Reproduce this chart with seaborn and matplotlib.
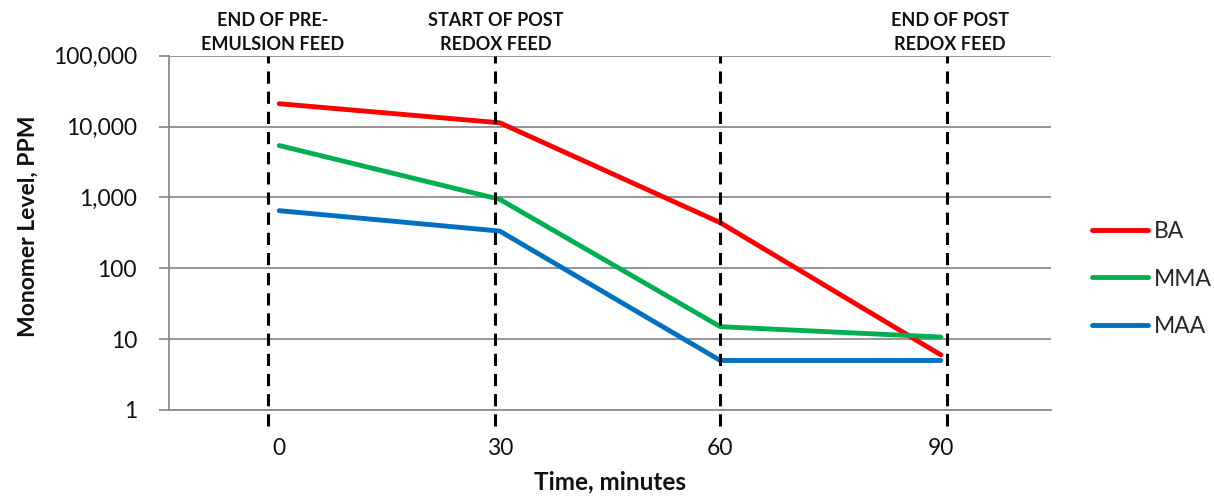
import matplotlib
matplotlib.use("Agg")
import matplotlib.pyplot as plt
import matplotlib.ticker as mticker
import matplotlib.transforms as mtransforms
import seaborn as sns
import pandas as pd
import numpy as np

# ---- data ----
times = ["0", "30", "60", "90"]
ba = [21000, 11300, 440, 6]
mma = [5400, 940, 15, 10.7]
maa = [650, 335, 5, 5]
series_names = ["BA", "MMA", "MAA"]
colors = ["#FF0000", "#00B050", "#0070C0"]
event_labels = ["END OF PRE-\nEMULSION FEED", "START OF POST\nREDOX FEED", "", "END OF POST\nREDOX FEED"]
event_pos = [-0.05, 0.98, 2.0, 3.03]
label_pos = [-0.03, 0.98, 2.0, 3.04]
y_ticks = [1, 10, 100, 1000, 10000, 100000]

df = pd.DataFrame({
    "time": times * 3,
    "ppm": ba + mma + maa,
    "series": [s for s in series_names for _ in times],
})

sns.set_theme(style="white")
plt.rcParams["font.family"] = ["Lato", "DejaVu Sans"]

fig = plt.figure(figsize=(12.14, 4.96), dpi=100)
W, H = 1214, 496
ax = fig.add_axes([169 / W, 1 - 410 / H, (1051 - 169) / W, (410 - 55.7) / H])

sns.lineplot(data=df, x="time", y="ppm", hue="series", palette=colors,
             hue_order=series_names, linewidth=3.5, ax=ax, sort=False,
             solid_capstyle="round", legend=True)
ax.set_yscale("log")
ax.set_ylim(1, 100000)
ax.set_xlim(-0.5, 3.5)

# grid
ax.yaxis.set_major_locator(mticker.FixedLocator(y_ticks))
ax.yaxis.set_minor_locator(mticker.NullLocator())
ax.yaxis.set_major_formatter(mticker.FuncFormatter(lambda v, p: f"{int(v):,}"))
ax.grid(axis="y", color="#8c8c8c", linewidth=1.3)
ax.grid(axis="x", visible=False)
ax.set_axisbelow(True)

# x ticks: labels at centers, tick marks at boundaries
ax.set_xticks(range(len(times)))
ax.set_xticklabels(times)
ax.set_xticks(np.arange(-0.5, len(times), 1.0), minor=True)
ax.tick_params(axis="x", which="major", length=0, pad=20, labelsize=16.5, labelcolor="#111111")
ax.tick_params(axis="x", which="minor", length=7, width=1.3, color="#8c8c8c", direction="out")
ax.tick_params(axis="y", which="major", length=7, width=1.3, color="#8c8c8c", direction="out",
               pad=16, labelsize=16.5, labelcolor="#111111", left=True)

for side in ["top", "right"]:
    ax.spines[side].set_visible(False)
for side in ["left", "bottom"]:
    ax.spines[side].set_color("#8c8c8c")
    ax.spines[side].set_linewidth(1.3)

# event dashed lines
for xp in event_pos:
    ax.axvline(xp, ymin=-0.045, ymax=1.0, color="black", linewidth=2.2,
               linestyle=(0, (4, 2.6)), clip_on=False, zorder=5)

# event annotations
trans = mtransforms.blended_transform_factory(ax.transData, fig.transFigure)
for xp, txt in zip(label_pos, event_labels):
    if txt:
        ax.text(xp, 1 - 32.5 / H, txt, transform=trans,
                ha="center", va="center", fontsize=13, fontweight="bold",
                linespacing=1.45, color="#111111")

ax.set_xlabel("Time, minutes", fontsize=17.5, fontweight="bold", color="#111111")
ax.set_ylabel("Monomer Level, PPM", fontsize=16.5, fontweight="bold", color="#111111")
ax.xaxis.set_label_coords(0.5, -0.17)
ax.yaxis.set_label_coords(-0.148, 0.52)

handles, labels = ax.get_legend_handles_labels()
ax.legend_.remove()
leg = fig.legend(handles, labels, loc="center left", bbox_to_anchor=(1092 / W, 1 - 279 / H),
                 frameon=False, fontsize=16.5, handlelength=2.45, handletextpad=0.25,
                 labelspacing=1.15, borderpad=0, borderaxespad=0)
for line in leg.get_lines():
    line.set_linewidth(3.5)
    line.set_solid_capstyle("round")

fig.savefig("out.png", dpi=100)
